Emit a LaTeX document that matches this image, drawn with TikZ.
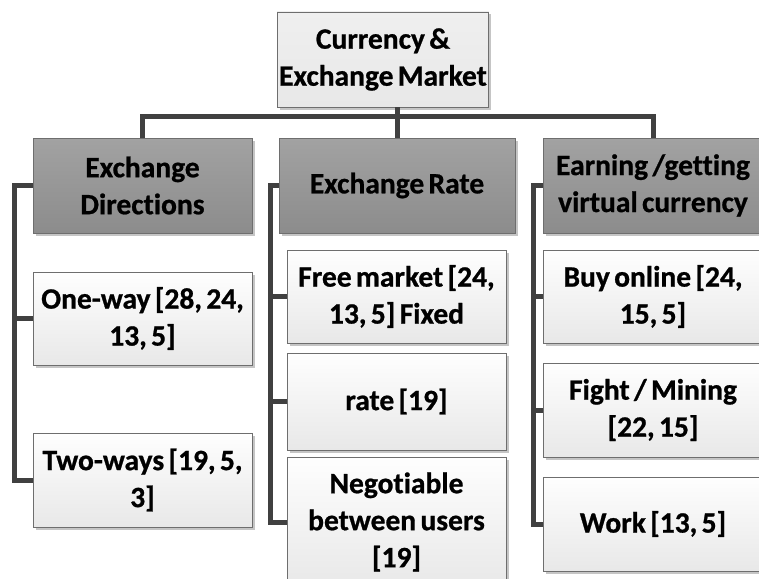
\documentclass[tikz,border=0pt]{standalone}
\usepackage{fontspec}
\setmainfont{Carlito}[WordSpace=0.65, Ligatures=CommonOff, BoldFeatures={FakeBold=0.8}]
\usetikzlibrary{shadows}
\definecolor{rootgray}{RGB}{232, 232, 232}
\definecolor{hdrtop}{RGB}{162, 162, 162}
\definecolor{hdrbot}{RGB}{140, 140, 140}
\definecolor{leaftop}{RGB}{254, 254, 254}
\definecolor{leafbot}{RGB}{232, 232, 232}
\definecolor{rimgray}{RGB}{110, 110, 110}
\definecolor{linkgray}{RGB}{64, 64, 64}

\begin{document}
\begin{tikzpicture}[x=1pt, y=-1pt,
    box/.style={draw=rimgray, line width=0.8pt, inner sep=2pt, align=center,
      font=\fontsize{29.5}{37}\selectfont\bfseries,
      drop shadow={shadow xshift=2.5pt, shadow yshift=-2.5pt, fill=black!45}},
    rootbox/.style={box, top color=rootgray!70, bottom color=rootgray},
    hdrbox/.style={box, top color=hdrtop, bottom color=hdrbot},
    leafbox/.style={box, top color=leaftop, bottom color=leafbot},
    link/.style={draw=linkgray, line width=5pt}]
    \clip (0,0) rectangle (759,578);

    % Wurzel
    \node[rootbox, minimum width=210pt, minimum height=95pt] (root) at (383,59.5) {Currency \&\\Exchange Market};

    % Ebene 1
    \node[hdrbox, minimum width=219pt, minimum height=95pt] (dirs) at (142.5,185.5) {Exchange\\Directions};
    \node[hdrbox, minimum width=236pt, minimum height=95pt] (rate) at (397,185.5) {Exchange Rate};
    \node[hdrbox, minimum width=220pt, minimum height=95pt] (earn) at (653,185.5) {Earning /getting\\virtual currency};

    % Blaetter links
    \node[leafbox, minimum width=219pt, minimum height=93pt] (oneway) at (142.5,318.5) {One-way [28, 24,\\13, 5]};
    \node[leafbox, minimum width=219pt, minimum height=94pt] (twoway) at (142.5,480) {Two-ways [19, 5,\\3]};

    % Blaetter Mitte
    \node[leafbox, minimum width=219pt, minimum height=93pt] (free) at (396.5,296.5) {Free market [24,\\13, 5] Fixed};
    \node[leafbox, minimum width=219pt, minimum height=97pt] (fixed) at (396.5,401.5) {rate [19]};
    \node[leafbox, minimum width=219pt, minimum height=130pt] (nego) at (396.5,522) {Negotiable\\between users\\{}[19]};

    % Blaetter rechts
    \node[leafbox, minimum width=220pt, minimum height=93pt] (buy) at (653,296.5) {Buy online [24,\\15, 5]};
    \node[leafbox, minimum width=220pt, minimum height=94pt] (fight) at (653,410) {Fight / Mining\\{}[22, 15]};
    \node[leafbox, minimum width=220pt, minimum height=94pt] (work) at (653,524) {Work [13, 5]};

    % Verbindungen
    \coordinate (bus) at (396,116);
    \coordinate (lsp) at (14,0);
    \coordinate (msp) at (270,0);
    \coordinate (rsp) at (533,0);
    \draw[link] (root.south -| rate.north) -- (rate.north);
    \draw[link] (dirs.north) |- (bus) -| (earn.north);

    \draw[link] (dirs.west) -| (lsp |- twoway.west) -- (twoway.west);
    \draw[link] (oneway.west) -- (oneway.west -| lsp);

    \draw[link] (rate.west) -| (msp |- nego.west) -- (nego.west);
    \draw[link] (free.west) -- (free.west -| msp);
    \draw[link] (fixed.west) -- (fixed.west -| msp);

    \draw[link] (earn.west) -| (rsp |- work.west) -- (work.west);
    \draw[link] (buy.west) -- (buy.west -| rsp);
    \draw[link] (fight.west) -- (fight.west -| rsp);
\end{tikzpicture}
\end{document}
